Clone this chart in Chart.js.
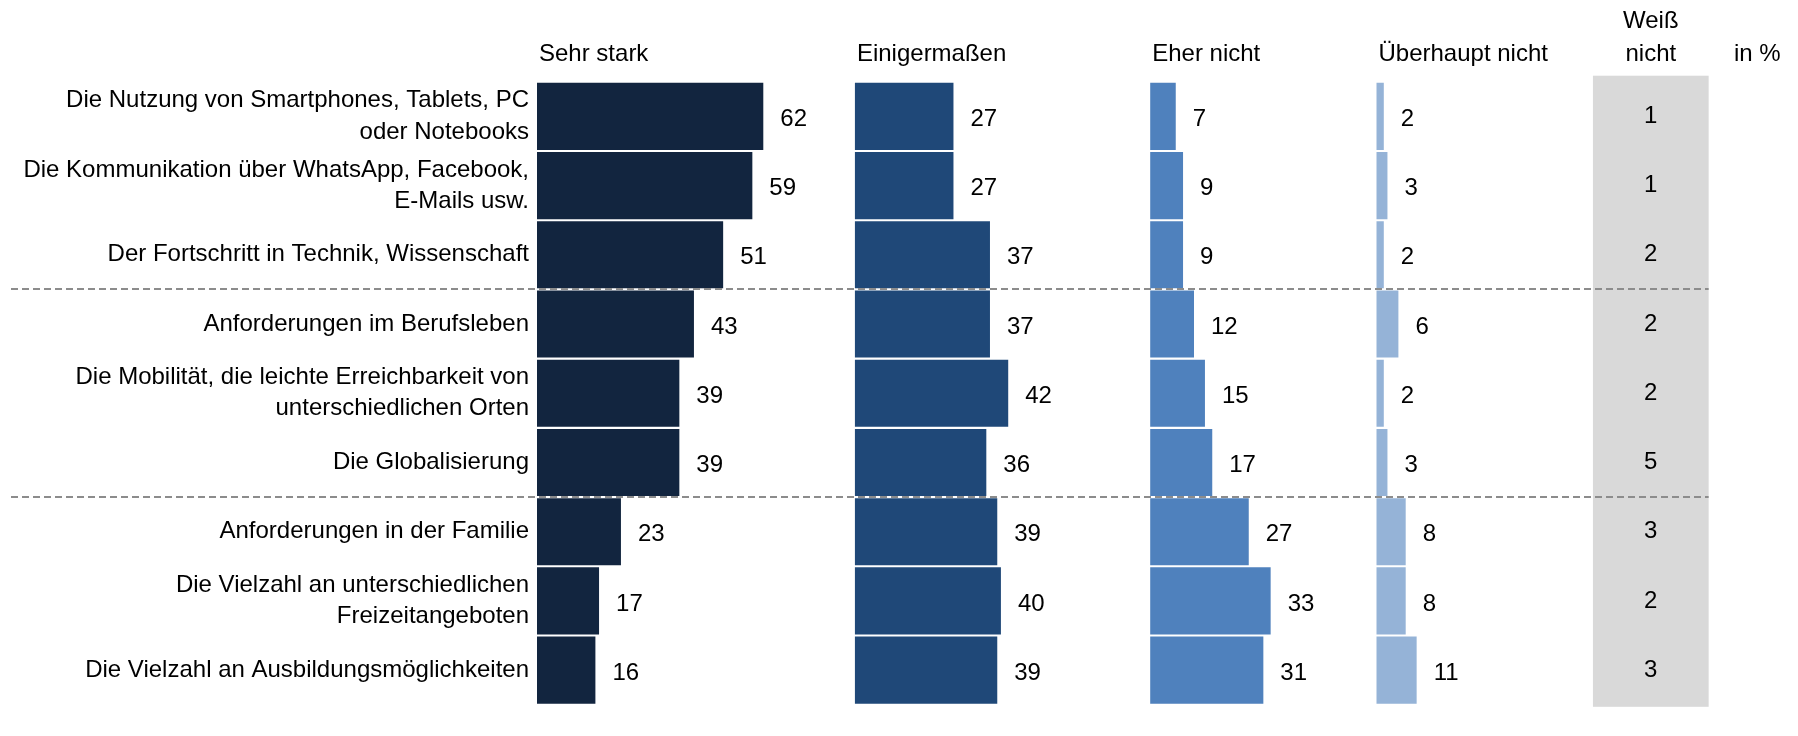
<!DOCTYPE html>
<html>
<head>
<meta charset="utf-8">
<script src="https://cdn.jsdelivr.net/npm/chart.js@4"></script>
<style>
  html, body { margin: 0; padding: 0; background: #fff; }
  #wrap { width: 1798px; height: 736px; }
</style>
</head>
<body>
<div id="wrap"><canvas id="chart" width="1798" height="736"></canvas></div>
<script>
// data
const categories = [
    ['Die Nutzung von Smartphones, Tablets, PC', 'oder Notebooks'],
    ['Die Kommunikation über WhatsApp, Facebook,', 'E-Mails usw.'],
    'Der Fortschritt in Technik, Wissenschaft',
    'Anforderungen im Berufsleben',
    ['Die Mobilität, die leichte Erreichbarkeit von', 'unterschiedlichen Orten'],
    'Die Globalisierung',
    'Anforderungen in der Familie',
    ['Die Vielzahl an unterschiedlichen', 'Freizeitangeboten'],
    'Die Vielzahl an Ausbildungsmöglichkeiten'
];
const seriesNames = ['Sehr stark', 'Einigermaßen', 'Eher nicht', 'Überhaupt nicht'];
const sehrStark = [62, 59, 51, 43, 39, 39, 23, 17, 16];
const einigermassen = [27, 27, 37, 37, 42, 36, 39, 40, 39];
const eherNicht = [7, 9, 9, 12, 15, 17, 27, 33, 31];
const ueberhauptNicht = [2, 3, 2, 6, 2, 3, 8, 8, 11];
const weissNicht = [1, 1, 2, 2, 2, 5, 3, 2, 3];
const unitLabel = 'in %';

// layout: where each column starts on the shared x scale
const colStart = [0, 87.1, 168, 230];
const greyFrom = 289.3, greyTo = 321;
const colors = ['#12253f', '#1f4878', '#4f81bd', '#95b3d7'];
const FONT = 'Arial, "Liberation Sans", sans-serif';

const allSeries = [sehrStark, einigermassen, eherNicht, ueberhauptNicht];

let datasets = allSeries.map((vals, i) => ({
    label: seriesNames[i],
    data: vals.map(v => [colStart[i], colStart[i] + v]),
    backgroundColor: colors[i],
    borderWidth: 0,
    grouped: false,
    barPercentage: 0.97,
    categoryPercentage: 1
}));

const decor = {
    id: 'decor',
    beforeDatasetsDraw(chart) {
        let ctx = chart.ctx, x = chart.scales.x, a = chart.chartArea;
        ctx.save();
        ctx.fillStyle = '#d9d9d9';
        let l = x.getPixelForValue(greyFrom), r = x.getPixelForValue(greyTo);
        ctx.fillRect(l, a.top - 6, r - l, a.bottom - a.top + 8);
        ctx.restore();
    },
    afterDatasetsDraw(chart) {
        let ctx = chart.ctx, x = chart.scales.x, y = chart.scales.y, a = chart.chartArea;
        ctx.save();
        // dashed separators
        ctx.strokeStyle = '#8c8c8c';
        ctx.lineWidth = 2;
        ctx.setLineDash([7, 4]);
        [2, 5].forEach(i => {
            let yy = Math.round((y.getPixelForValue(i) + y.getPixelForValue(i + 1)) / 2);
            ctx.beginPath();
            ctx.moveTo(11, yy);
            ctx.lineTo(x.getPixelForValue(greyTo), yy);
            ctx.stroke();
        });
        ctx.setLineDash([]);

        // value labels
        ctx.fillStyle = '#000';
        ctx.font = '24px ' + FONT;
        ctx.textBaseline = 'middle';
        ctx.textAlign = 'left';
        allSeries.forEach((vals, i) => {
            vals.forEach((v, j) => {
                ctx.fillText(String(v), x.getPixelForValue(colStart[i] + v) + 17, y.getPixelForValue(j) + 3);
            });
        });
        ctx.textAlign = 'center';
        let mid = x.getPixelForValue((greyFrom + greyTo) / 2);
        weissNicht.forEach((v, j) => {
            ctx.fillText(String(v), mid, y.getPixelForValue(j));
        });

        // column headers
        ctx.textAlign = 'left';
        seriesNames.forEach((n, i) => {
            ctx.fillText(n, x.getPixelForValue(colStart[i]) + 2, 54);
        });
        ctx.textAlign = 'center';
        ctx.fillText('Weiß', mid, 21);
        ctx.fillText('nicht', mid, 54);
        ctx.textAlign = 'left';
        ctx.fillText(unitLabel, 1734, 54);
        ctx.restore();
    }
};

let ctx = document.getElementById('chart').getContext('2d');
let chart = new Chart(ctx, {
    type: 'bar',
    data: { labels: categories, datasets: datasets },
    options: {
        indexAxis: 'y',
        responsive: false,
        animation: false,
        layout: { padding: { left: 0, right: 56.5, top: 81.7, bottom: 25 } },
        plugins: { legend: { display: false }, tooltip: { enabled: false } },
        scales: {
            x: { display: false, min: 0, max: 330 },
            y: {
                grid: { display: false },
                border: { display: false },
                ticks: {
                    color: '#000',
                    padding: 0,
                    font: { family: FONT, size: 24, lineHeight: 1.3 }
                },
                afterFit(scale) { scale.width = 537; }
            }
        }
    },
    plugins: [decor]
});
</script>
</body>
</html>
